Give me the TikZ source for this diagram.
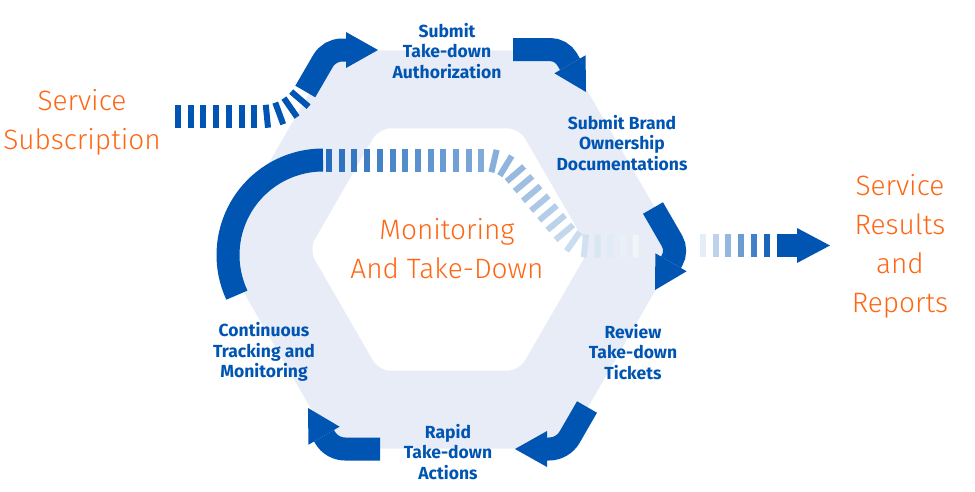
\documentclass[tikz,border=0pt]{standalone}
\usepackage{fontspec}
\setmainfont{Fira Sans}
\newfontfamily\thinfont{Fira Sans Light}
\usepackage{tikz}
\usetikzlibrary{arrows.meta,decorations.markings}
\definecolor{brandblue}{RGB}{0,84,178}
\definecolor{brandorange}{RGB}{255,102,20}
\definecolor{ringfill}{RGB}{232,236,246}
\tikzset{
  flow/.style      = {brandblue, line width=23pt, -{Triangle[length=32pt,width=36pt,line width=0pt]}},
  ringarc/.style   = {brandblue, line width=23pt},
  fadebars/.style n args = {3}{decorate, decoration={markings,
      mark=between positions 0 and 1 step 12.7pt with {
        \pgfmathsetmacro\barpct{#1+(#2-#1)*(\pgfkeysvalueof{/pgf/decoration/mark info/sequence number}-1)/#3}
        \fill[brandblue!\barpct!white] (-3pt,-11.5pt) rectangle (3pt,11.5pt);}}},
  steplabel/.style = {text=brandblue, font=\fontsize{17.5}{20.5}\selectfont\bfseries, align=center},
  bigtext/.style   = {text=brandorange, font=\thinfont\fontsize{28}{39}\selectfont, align=center},
}

\begin{document}
\begin{tikzpicture}[x=1pt,y=-1pt]
  \useasboundingbox (0,0) rectangle (975,491);
  % ring
  \fill[ringfill] (219,249.5) -- (334,50.3) -- (564,50.3) -- (679,249.5) -- (564,448.7) -- (334,448.7) -- cycle;
  \fill[white, rounded corners=12pt] (309,249.5) -- (379,128.3) -- (519,128.3) -- (589,249.5) -- (519,370.7) -- (379,370.7) -- cycle;

  \coordinate (inA) at (178,116.5);
  \coordinate (inB) at (305.3,91.5);
  \coordinate (outA) at (703,245.5);
  \coordinate (outB) at (777,245.5);

  % entry and exit
  \path[fadebars={100}{100}{1}] (inA) -- (262,116.5) arc[start angle=90, end angle=30, radius=50];
  \draw[flow] (inB) -- (323,61) arc[start angle=210, end angle=270, radius=22] -- (378,50);
  \path[fadebars={10}{90}{5}] (outA) -- (768,245.5);
  \draw[flow,-{Triangle[length=33pt,width=35pt,line width=0pt]}] (outB) -- (830,245.5);

  % arrows round the ring
  \draw[flow] (513,49.5) -- (549.9,49.5) arc[start angle=270, end angle=330, radius=20] -- (586,92);
  \draw[flow] (653,208) -- (672,240.9) arc[start angle=-30, end angle=30, radius=19.6] -- (655,290);
  \draw[flow] (587,407) -- (569.7,437) arc[start angle=30, end angle=90, radius=24] -- (515,449);
  \draw[flow] (380,449) -- (345.1,449) arc[start angle=90, end angle=150, radius=23.2] -- (308,408);
  \draw[ringarc] (323,160) arc[start angle=270, end angle=155, radius=95];
  \path[fadebars={85}{6}{27}] (329,160) -- (485,160) arc[start angle=270, end angle=320, radius=40]
    -- (568.3,237.1) arc[start angle=140, end angle=90, radius=25] -- (640,246);

  \node[bigtext] (sub) at (82,122) {Service\\Subscription};
  \node[bigtext] (monitor) at (447,249) {Monitoring\\And Take-Down};
  \node[bigtext] (results) at (900,246) {Service\\Results\\and\\Reports};

  \node[steplabel] (auth) at (447,51) {Submit\\Take-down\\Authorization};
  \node[steplabel] (brand) at (622,143) {Submit Brand\\Ownership\\Documentations};
  \node[steplabel] (review) at (633,352) {Review\\Take-down\\Tickets};
  \node[steplabel] (rapid) at (448,452) {Rapid\\Take-down\\Actions};
  \node[steplabel] (track) at (264,352) {Continuous\\Tracking and\\Monitoring};
\end{tikzpicture}
\end{document}
